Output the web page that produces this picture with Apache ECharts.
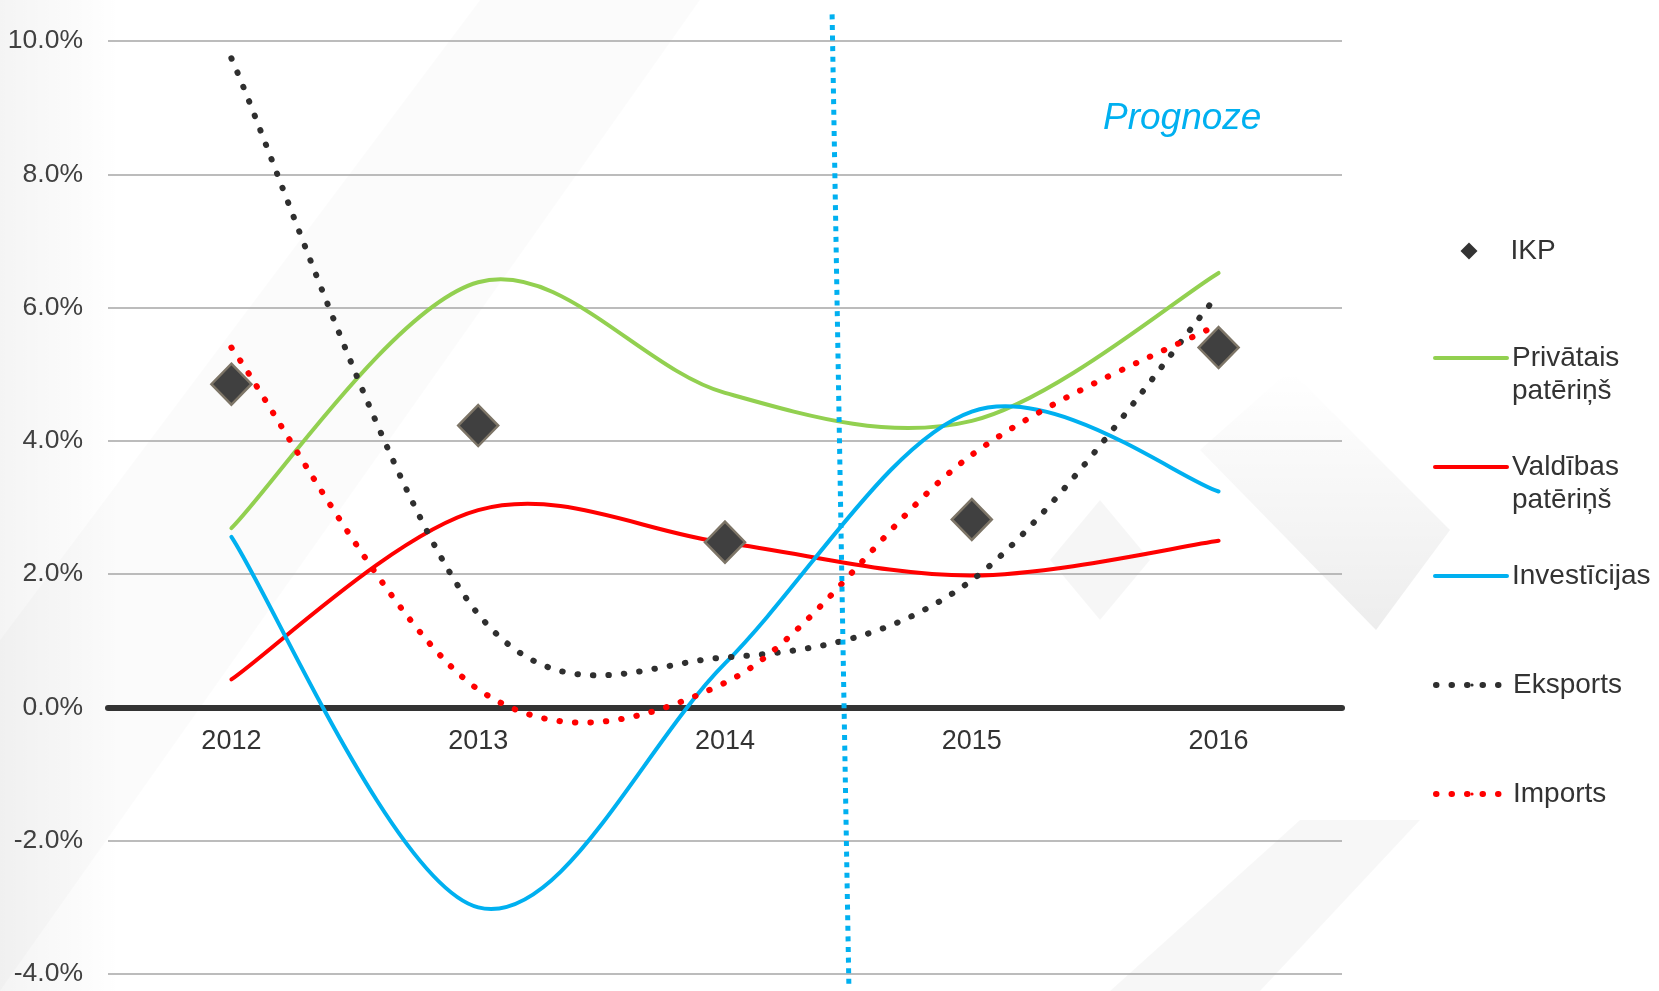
<!DOCTYPE html>
<html>
<head>
<meta charset="utf-8">
<script src="https://cdn.jsdelivr.net/npm/echarts@6/dist/echarts.min.js"></script>
<style>
html,body{margin:0;padding:0;background:#fff;}
#chart{width:1659px;height:991px;}
</style>
</head>
<body>
<div id="chart"></div>
<script>
// ---- data ----
const years = ['2012', '2013', '2014', '2015', '2016'];
const ikp = [4.85, 4.23, 2.48, 2.82, 5.40];
const privatais = [2.69, 6.38, 4.72, 4.30, 6.52];
const valdibas = [0.42, 2.96, 2.47, 1.98, 2.50];
const investicijas = [2.56, -3.00, 0.66, 4.44, 3.24];
const eksports = [9.74, 1.40, 0.75, 1.91, 6.20];
const imports = [5.40, 0.27, 0.37, 3.79, 5.75];
const yTicks = [-4, -2, 0, 2, 4, 6, 8, 10];
const prognozeLine = [[2.434, 10.40], [2.502, -4.19]];
const prognozeText = 'Prognoze';
const seriesNames = ['IKP', 'Privātais patēriņš', 'Valdības patēriņš', 'Investīcijas', 'Eksports', 'Imports'];

const FONT = "'Liberation Sans', Arial, sans-serif";
const chart = echarts.init(document.getElementById('chart'), null, {renderer: 'canvas'});

const GRID = {left: 108, right: 317, top: 41, bottom: 17};
const yMin = yTicks[0], yMax = yTicks[yTicks.length - 1];
const gridH = 991 - GRID.top - GRID.bottom;
const zeroOffset = -gridH * (0 - yMin) / (yMax - yMin);

const legendBase = {
  orient: 'vertical', padding: 0, itemGap: 0, selectedMode: false,
  formatter: n => n,
  textStyle: {fontSize: 28, color: '#333', lineHeight: 33, fontFamily: FONT}
};
// two-line legend names: an empty first line keeps the icon level with the first text line
const twoLine = n => '\n' + n.replace(' ', '\n');
const dotted = [0.5, 15];

// Excel-like smoothed curve (Catmull-Rom through the data points) drawn via the library's coordinate system
function curveSeries(values, color, width, dash) {
  return {
    type: 'custom', silent: true, z: 3,
    data: values.map((v, i) => [i, v]),
    encode: {x: 0, y: 1},
    renderItem: function (params, api) {
      if (params.dataIndexInside !== 0) return null;
      const n = values.length;
      const pts = [];
      for (let i = 0; i < n; i++) pts.push(api.coord([api.value(0, i), api.value(1, i)]));
      let d = 'M' + pts[0][0] + ' ' + pts[0][1];
      for (let i = 0; i < n - 1; i++) {
        const p0 = pts[Math.max(i - 1, 0)], p1 = pts[i], p2 = pts[i + 1], p3 = pts[Math.min(i + 2, n - 1)];
        const c1x = p1[0] + (p2[0] - p0[0]) / 6, c1y = p1[1] + (p2[1] - p0[1]) / 6;
        const c2x = p2[0] - (p3[0] - p1[0]) / 6, c2y = p2[1] - (p3[1] - p1[1]) / 6;
        d += ' C' + c1x + ' ' + c1y + ' ' + c2x + ' ' + c2y + ' ' + p2[0] + ' ' + p2[1];
      }
      return {
        type: 'path', shape: {pathData: d},
        style: {fill: 'none', stroke: color, lineWidth: width, lineDash: dash || null, lineCap: 'round', lineJoin: 'round'}
      };
    }
  };
}
// legend carrier series (same data, line hidden; curve is drawn by the custom series above)
function legendLine(name, values, color, width, dash) {
  return {
    name: name, type: 'line', data: values, symbol: 'none', silent: true,
    lineStyle: {color: color, width: width, type: dash || 'solid', cap: 'round', opacity: 0},
    itemStyle: {color: color}
  };
}

const option = {
  backgroundColor: '#ffffff',
  animation: false,
  title: {
    text: prognozeText, left: 1103, top: 100, padding: 0,
    textStyle: {color: '#00B0F0', fontStyle: 'italic', fontWeight: 'normal', fontSize: 37, fontFamily: FONT}
  },
  graphic: [
    {type: 'rect', z: -10, silent: true, shape: {x: 0, y: 0, width: 120, height: 991},
     style: {fill: new echarts.graphic.LinearGradient(0, 0, 1, 0, [{offset: 0, color: 'rgba(0,0,0,0.045)'}, {offset: 1, color: 'rgba(0,0,0,0)'}])}},
    {type: 'polygon', z: -10, silent: true, shape: {points: [[0, 640], [480, 0], [700, 0], [0, 991]]},
     style: {fill: 'rgba(0,0,0,0.015)'}},
    {type: 'polygon', z: -10, silent: true, shape: {points: [[1200, 450], [1376, 630], [1450, 530], [1290, 370]]},
     style: {fill: new echarts.graphic.LinearGradient(0, 0, 0, 1, [{offset: 0, color: 'rgba(0,0,0,0.0)'}, {offset: 1, color: 'rgba(0,0,0,0.07)'}])}},
    {type: 'polygon', z: -10, silent: true, shape: {points: [[1050, 560], [1100, 620], [1150, 560], [1100, 500]]},
     style: {fill: 'rgba(0,0,0,0.035)'}},
    {type: 'polygon', z: -10, silent: true, shape: {points: [[1110, 991], [1300, 820], [1420, 820], [1260, 991]]},
     style: {fill: 'rgba(0,0,0,0.03)'}}
  ],
  grid: {left: GRID.left, right: GRID.right, top: GRID.top, bottom: GRID.bottom, containLabel: false, outerBoundsMode: 'none'},
  xAxis: [
    {
      type: 'category', data: years, boundaryGap: true, offset: zeroOffset,
      axisLine: {onZero: false, lineStyle: {color: '#333', width: 6}},
      axisTick: {show: false},
      axisLabel: {fontSize: 27, color: '#333', margin: 21, fontFamily: FONT},
      splitLine: {show: false}
    },
    {type: 'value', min: -0.5, max: 4.5, show: false}
  ],
  yAxis: {
    type: 'value', min: yMin, max: yMax, interval: 2,
    axisLine: {show: false}, axisTick: {show: false},
    axisLabel: {fontSize: 26.5, color: '#404040', margin: 25, fontFamily: FONT, formatter: v => v.toFixed(1) + '%'},
    splitLine: {lineStyle: {color: '#a6a6a6', width: 1.5}}
  },
  legend: [
    Object.assign({}, legendBase, {left: 1460.5, top: 234.5, itemWidth: 17, itemHeight: 17,
      data: [{name: seriesNames[0], itemStyle: {color: '#333', borderWidth: 0}, textStyle: {padding: [0, 0, 0, 28]}}]}),
    Object.assign({}, legendBase, {left: 1433, top: 308.5, itemWidth: 72, itemHeight: 4, formatter: twoLine, lineStyle: {width: 4, opacity: 1},
      data: [{name: seriesNames[1]}]}),
    Object.assign({}, legendBase, {left: 1433, top: 417.5, itemWidth: 72, itemHeight: 4, formatter: twoLine, lineStyle: {width: 4, opacity: 1},
      data: [{name: seriesNames[2]}]}),
    Object.assign({}, legendBase, {left: 1433, top: 559.5, itemWidth: 72, itemHeight: 4, lineStyle: {width: 4, opacity: 1},
      data: [{name: seriesNames[3]}]}),
    Object.assign({}, legendBase, {left: 1433, top: 668.5, itemWidth: 72, itemHeight: 4, lineStyle: {width: 6, type: dotted, cap: 'round', opacity: 1},
      data: [{name: seriesNames[4]}]}),
    Object.assign({}, legendBase, {left: 1433, top: 777.5, itemWidth: 72, itemHeight: 4, lineStyle: {width: 6, type: dotted, cap: 'round', opacity: 1},
      data: [{name: seriesNames[5]}]})
  ],
  series: [
    legendLine(seriesNames[1], privatais, '#92D050', 4),
    legendLine(seriesNames[2], valdibas, '#FF0000', 4),
    legendLine(seriesNames[3], investicijas, '#00B0F0', 4),
    legendLine(seriesNames[4], eksports, '#2f2f2f', 6, dotted),
    legendLine(seriesNames[5], imports, '#FF0000', 6, dotted),
    curveSeries(privatais, '#92D050', 4),
    curveSeries(valdibas, '#FF0000', 4),
    curveSeries(investicijas, '#00B0F0', 4),
    curveSeries(eksports, '#2f2f2f', 6, dotted),
    curveSeries(imports, '#FF0000', 6, dotted),
    {name: seriesNames[0], type: 'scatter', data: ikp, symbol: 'diamond', symbolSize: [40, 41], z: 4,
     itemStyle: {color: '#404040', borderColor: '#7d7567', borderWidth: 2.5, opacity: 1}},
    {name: 'prognoze-sep', type: 'line', xAxisIndex: 1, data: prognozeLine, symbol: 'none', clip: false, silent: true, z: 5,
     lineStyle: {color: '#00B0F0', width: 5, type: [5, 5.6], cap: 'butt'}}
  ]
};
chart.setOption(option);
</script>
</body>
</html>
